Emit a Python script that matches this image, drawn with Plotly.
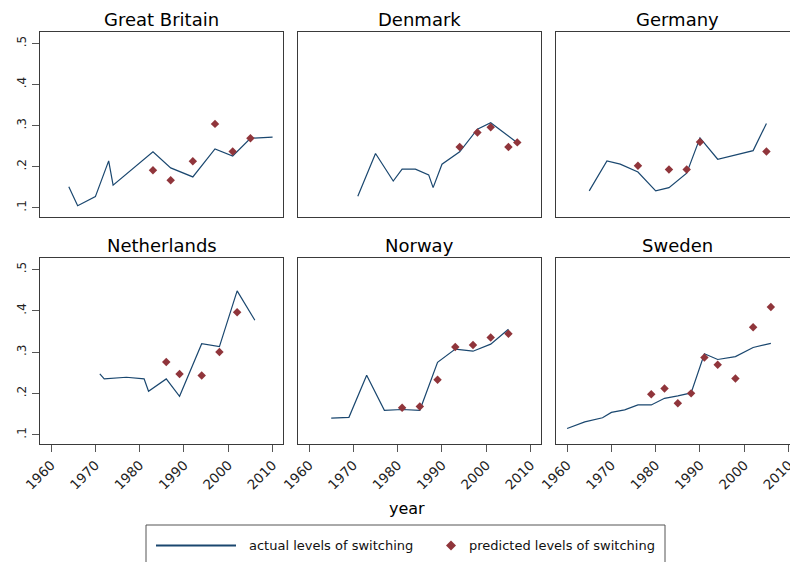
import plotly.graph_objects as go

# ---- data: actual and predicted levels of switching by country ----
countries = ["Great Britain", "Denmark", "Germany", "Netherlands", "Norway", "Sweden"]

gb_year = [1964, 1966, 1970, 1973, 1974, 1983, 1987, 1992, 1997, 2001, 2005, 2010]
gb_actual = [0.151, 0.105, 0.127, 0.214, 0.155, 0.236, 0.197, 0.175, 0.243, 0.226, 0.269, 0.272]
gb_pred_year = [1983, 1987, 1992, 1997, 2001, 2005]
gb_pred = [0.191, 0.167, 0.213, 0.304, 0.237, 0.269]

dk_year = [1971, 1975, 1979, 1981, 1984, 1987, 1988, 1990, 1994, 1998, 2001, 2007]
dk_actual = [0.128, 0.232, 0.165, 0.194, 0.194, 0.180, 0.149, 0.206, 0.236, 0.291, 0.307, 0.258]
dk_pred_year = [1994, 1998, 2001, 2005, 2007]
dk_pred = [0.248, 0.283, 0.296, 0.248, 0.259]

de_year = [1965, 1969, 1972, 1976, 1980, 1983, 1987, 1990, 1994, 2002, 2005]
de_actual = [0.141, 0.214, 0.206, 0.187, 0.141, 0.149, 0.184, 0.270, 0.218, 0.239, 0.305]
de_pred_year = [1976, 1983, 1987, 1990, 2005]
de_pred = [0.202, 0.193, 0.193, 0.260, 0.237]

nl_year = [1971, 1972, 1977, 1981, 1982, 1986, 1989, 1994, 1998, 2002, 2006]
nl_actual = [0.247, 0.235, 0.239, 0.235, 0.205, 0.235, 0.193, 0.320, 0.313, 0.448, 0.377]
nl_pred_year = [1986, 1989, 1994, 1998, 2002]
nl_pred = [0.276, 0.247, 0.243, 0.300, 0.396]

no_year = [1965, 1969, 1973, 1977, 1981, 1985, 1989, 1993, 1997, 2001, 2005]
no_actual = [0.140, 0.142, 0.244, 0.159, 0.161, 0.159, 0.275, 0.307, 0.302, 0.319, 0.355]
no_pred_year = [1981, 1985, 1989, 1993, 1997, 2001, 2005]
no_pred = [0.165, 0.168, 0.233, 0.312, 0.317, 0.335, 0.344]

se_year = [1960, 1964, 1968, 1970, 1973, 1976, 1979, 1982, 1985, 1988, 1991, 1994, 1998, 2002, 2006]
se_actual = [0.115, 0.131, 0.141, 0.154, 0.160, 0.172, 0.172, 0.188, 0.194, 0.201, 0.296, 0.282, 0.289, 0.311, 0.321]
se_pred_year = [1979, 1982, 1985, 1988, 1991, 1994, 1998, 2002, 2006]
se_pred = [0.198, 0.212, 0.176, 0.200, 0.287, 0.269, 0.236, 0.360, 0.409]

x_ticks = [1960, 1970, 1980, 1990, 2000, 2010]
y_ticks = [0.1, 0.2, 0.3, 0.4, 0.5]
y_tick_text = [".1", ".2", ".3", ".4", ".5"]

series = [
    (gb_year, gb_actual, gb_pred_year, gb_pred),
    (dk_year, dk_actual, dk_pred_year, dk_pred),
    (de_year, de_actual, de_pred_year, de_pred),
    (nl_year, nl_actual, nl_pred_year, nl_pred),
    (no_year, no_actual, no_pred_year, no_pred),
    (se_year, se_actual, se_pred_year, se_pred),
]

# ---- styling ----
W, H = 790, 562
FONT = "DejaVu Sans"
LINE_COLOR = "#1a476f"
MARKER_COLOR = "#90353b"
FRAME_COLOR = "#3a3a3a"


def fx(px):
    return px / W


def fy(py):
    return 1 - py / H


PX_PER_YEAR = 4.43
X0 = 1957.5
col_px = [(40, 283), (298, 541), (556, 790)]
row_px = [(32, 217), (258, 444)]
y_range = [0.0775, 0.5275]
title_x = [161.5, 419.5, 677.5]
title_y = [19, 245]

fig = go.Figure()
layout = dict(
    template="none",
    width=W, height=H,
    margin=dict(l=0, r=0, t=0, b=0, pad=0, autoexpand=False),
    paper_bgcolor="white", plot_bgcolor="white",
    showlegend=False,
    font=dict(family=FONT, color="#000"),
)
annotations = []

for i, (yrs, act, pyrs, pred) in enumerate(series):
    r, c = divmod(i, 3)
    n = "" if i == 0 else str(i + 1)
    xa, ya = "x" + n, "y" + n
    fig.add_trace(go.Scatter(
        x=yrs, y=act, mode="lines", xaxis=xa, yaxis=ya,
        line=dict(color=LINE_COLOR, width=1.2),
        name="actual levels of switching",
    ))
    fig.add_trace(go.Scatter(
        x=pyrs, y=pred, mode="markers", xaxis=xa, yaxis=ya,
        marker=dict(symbol="diamond", size=6.5, color=MARKER_COLOR,
                    line=dict(width=0)),
        name="predicted levels of switching",
    ))
    l, rr = col_px[c]
    t, b = row_px[r]
    x_hi = X0 + (rr - l) / PX_PER_YEAR
    layout["xaxis" + n] = dict(
        domain=[fx(l), fx(rr)], range=[X0, x_hi], anchor=ya,
        automargin=False, ticklabeloverflow="allow",
        showline=True, mirror=True, linecolor=FRAME_COLOR, linewidth=1,
        showgrid=False, zeroline=False,
        tickvals=x_ticks,
        showticklabels=(r == 1),
        ticks="outside" if r == 1 else "",
        ticklen=7, tickcolor="#555", tickwidth=1,
        tickangle=-45, tickfont=dict(size=13.5, family=FONT, color="#222"),
    )
    layout["yaxis" + n] = dict(
        domain=[fy(b), fy(t)], range=y_range, anchor=xa,
        automargin=False, ticklabeloverflow="allow",
        showline=True, mirror=True, linecolor=FRAME_COLOR, linewidth=1,
        showgrid=False, zeroline=False,
        tickvals=y_ticks, ticktext=y_tick_text,
        showticklabels=(c == 0),
        ticks="outside" if c == 0 else "",
        ticklen=7, tickcolor="#555", tickwidth=1,
        ticklabelstandoff=1,
        tickangle=-90, tickfont=dict(size=12, family=FONT, color="#222"),
    )
    annotations.append(dict(
        text=countries[i], x=fx(title_x[c]), y=fy(title_y[r]),
        xref="paper", yref="paper", xanchor="center", yanchor="middle",
        showarrow=False, font=dict(size=18, family=FONT, color="#000"),
    ))

# shared x-axis title
annotations.append(dict(
    text="year", x=fx(406.5), y=fy(508), xref="paper", yref="paper",
    xanchor="center", yanchor="middle", showarrow=False,
    font=dict(size=16, family=FONT, color="#000"),
))

# legend box with keys
legend_y = 545.5
annotations.append(dict(
    text="actual levels of switching", x=fx(247), y=fy(legend_y),
    xref="paper", yref="paper", xanchor="left", yanchor="middle",
    showarrow=False, font=dict(size=13, family=FONT, color="#111"),
))
annotations.append(dict(
    text="predicted levels of switching", x=fx(467), y=fy(legend_y),
    xref="paper", yref="paper", xanchor="left", yanchor="middle",
    showarrow=False, font=dict(size=13, family=FONT, color="#111"),
))
shapes = [
    dict(type="rect", xref="paper", yref="paper",
         x0=fx(146), x1=fx(665), y0=fy(525), y1=fy(580),
         line=dict(color="#555", width=1), fillcolor="rgba(0,0,0,0)"),
    dict(type="line", xref="paper", yref="paper",
         x0=fx(156), x1=fx(236), y0=fy(legend_y), y1=fy(legend_y),
         line=dict(color=LINE_COLOR, width=2)),
    dict(type="path", xref="paper", yref="paper",
         path=(f"M{fx(446)},{fy(legend_y)} L{fx(451)},{fy(legend_y - 5)} "
               f"L{fx(456)},{fy(legend_y)} L{fx(451)},{fy(legend_y + 5)} Z"),
         fillcolor=MARKER_COLOR, line=dict(color=MARKER_COLOR, width=0)),
]

layout["annotations"] = annotations
layout["shapes"] = shapes
fig.update_layout(**layout)

fig.write_html("out.html")
